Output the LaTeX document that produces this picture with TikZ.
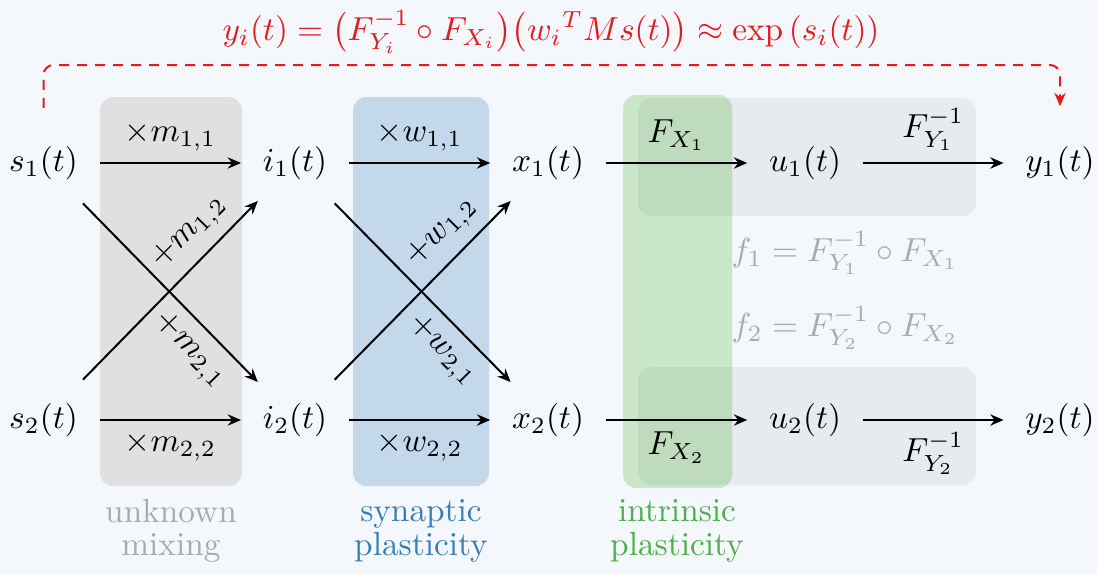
\documentclass[tikz,border=0pt]{standalone}
\usetikzlibrary{arrows.meta}
\definecolor{bgc}{RGB}{244,247,251}
\definecolor{setred}{RGB}{228,26,28}
\definecolor{setblue}{RGB}{55,126,184}
\definecolor{setgreen}{RGB}{77,175,74}
\definecolor{mixfill}{RGB}{224,224,224}
\definecolor{labgray}{RGB}{170,170,170}
\begin{document}
\begin{tikzpicture}[x=0.3pt,y=-0.3pt,
  flow/.style={-{Stealth[length=4pt,width=3.4pt]}, semithick, shorten <=3pt, shorten >=3pt},
  crossflow/.style={flow, shorten <=5pt, shorten >=4pt},
  panel/.style={rounded corners=4pt},
  caption/.style={align=center, font=\fontsize{10}{10}\selectfont},
  reddash/.style={setred, semithick, dash pattern=on 3pt off 2.4pt, rounded corners=3pt,
    -{Stealth[length=4pt,width=3.4pt]}, shorten <=8pt, shorten >=8.5pt}]
\fill[bgc] (0,0) rectangle (1097,574);
\useasboundingbox (0,0) rectangle (1097,574);

% panels
\fill[mixfill, panel] (100,97) rectangle (242,486);
\fill[setblue!30, panel] (353,97) rectangle (489,486);
\fill[setgreen!30, panel] (623,95) rectangle (732,488);
\fill[black, opacity=0.05, panel] (638,98) rectangle (976,216);
\fill[black, opacity=0.05, panel] (638,367) rectangle (976,485);

% variables
\node (s1) at (43.5,163) {$s_1(t)$};
\node (s2) at (43.5,420) {$s_2(t)$};
\node (i1) at (295,163) {$i_1(t)$};
\node (i2) at (295,420) {$i_2(t)$};
\node (x1) at (548,163) {$x_1(t)$};
\node (x2) at (548,420) {$x_2(t)$};
\node (u1) at (805,163) {$u_1(t)$};
\node (u2) at (805,420) {$u_2(t)$};
\node (y1) at (1060,163) {$y_1(t)$};
\node (y2) at (1060,420) {$y_2(t)$};

% mixing
\draw[flow] (s1) -- node[above] {$\times m_{1,1}$} (i1);
\draw[flow] (s2) -- node[below] {$\times m_{2,2}$} (i2);
\draw[crossflow] (s1) -- node[pos=0.7, sloped, below] {$+m_{2,1}$} (i2);
\draw[crossflow] (s2) -- node[pos=0.7, sloped, above] {$+m_{1,2}$} (i1);

% synaptic weights
\draw[flow] (i1) -- node[above] {$\times w_{1,1}$} (x1);
\draw[flow] (i2) -- node[below] {$\times w_{2,2}$} (x2);
\draw[crossflow] (i1) -- node[pos=0.7, sloped, below] {$+w_{2,1}$} (x2);
\draw[crossflow] (i2) -- node[pos=0.7, sloped, above] {$+w_{1,2}$} (x1);

% intrinsic
\draw[flow] (x1) -- node[above] {$F_{X_1}$} (u1);
\draw[flow] (u1) -- node[above] {$F_{Y_1}^{-1}$} (y1);
\draw[flow] (x2) -- node[below] {$F_{X_2}$} (u2);
\draw[flow] (u2) -- node[below] {$F_{Y_2}^{-1}$} (y2);

\node[text=labgray] (f1) at (845,253) {$f_1 = F_{Y_1}^{-1}\circ F_{X_1}$};
\node[text=labgray] (f2) at (845,328) {$f_2 = F_{Y_2}^{-1}\circ F_{X_2}$};

% captions
\node[caption, text=labgray] (capmix) at (171,531) {unknown\\mixing};
\node[caption, text=setblue] (capsyn) at (421,531) {synaptic\\plasticity};
\node[caption, text=setgreen] (capint) at (677,531) {intrinsic\\plasticity};

% formula
\node[text=setred] (eq) at (551,32) {$y_i(t) = \bigl(F_{Y_i}^{-1}\circ F_{X_i}\bigr)\bigl({w_i}^T M s(t)\bigr) \approx \exp\left(s_i(t)\right)$};
\coordinate (ctop) at (551,65);
\draw[reddash] (s1.north) |- (ctop) -| (y1.north);
\end{tikzpicture}
\end{document}
